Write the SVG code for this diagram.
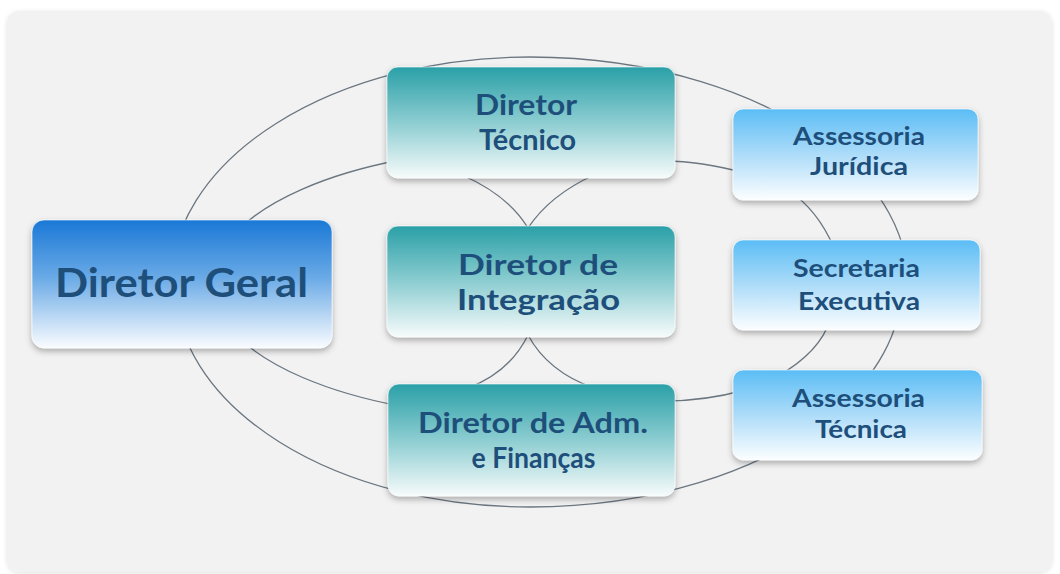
<svg xmlns="http://www.w3.org/2000/svg" width="1060" height="574" viewBox="0 0 1060 574">
  <defs>
    <linearGradient id="gBlue" x1="0" y1="0" x2="0" y2="1">
      <stop offset="0" stop-color="#1a78d6"/>
      <stop offset="0.45" stop-color="#6aaae6"/>
      <stop offset="1" stop-color="#fafcff"/>
    </linearGradient>
    <linearGradient id="gTeal" x1="0" y1="0" x2="0" y2="1">
      <stop offset="0" stop-color="#2aa0a7"/>
      <stop offset="0.5" stop-color="#8ccdd1"/>
      <stop offset="1" stop-color="#f7fbfb"/>
    </linearGradient>
    <linearGradient id="gLight" x1="0" y1="0" x2="0" y2="1">
      <stop offset="0" stop-color="#5bbdf5"/>
      <stop offset="0.5" stop-color="#addcf9"/>
      <stop offset="1" stop-color="#fcfeff"/>
    </linearGradient>
    <filter id="shadow" x="-10%" y="-10%" width="120%" height="130%">
      <feDropShadow dx="0" dy="3" stdDeviation="3" flood-color="#000" flood-opacity="0.3"/>
    </filter>
    <filter id="panelShadow" x="-5%" y="-5%" width="110%" height="110%">
      <feDropShadow dx="0" dy="1" stdDeviation="2" flood-color="#000" flood-opacity="0.12"/>
    </filter>
  </defs>
  <style>
    .box { stroke: #ffffff; stroke-opacity: 0.6; stroke-width: 1; filter: url(#shadow); }
    .lbl { font-family: Lato, "Open Sans", "Liberation Sans", sans-serif; font-weight: bold; fill: #1e4f7b; text-anchor: middle; }
    .mid { font-size: 29px; }
    .small { font-size: 25px; }
    .big { font-size: 40px; }
    .conn path { fill: none; stroke: #6b7680; stroke-width: 1.3; }
  </style>

  <rect x="0" y="0" width="1060" height="574" fill="#ffffff"/>
  <rect id="panel" x="7" y="11" width="1045" height="561" rx="12" fill="#f2f2f2" filter="url(#panelShadow)"/>

  <g id="connectors" class="conn">
    <!-- outer loop -->
    <path d="M 171 284 A 359 227 0 0 1 530 57"/>
    <path d="M 530 57 A 378 227 0 0 1 835 150"/>
    <path d="M 835 150 A 378 227 0 0 1 908 284"/>
    <path d="M 902 284 A 372 223 0 0 1 831 415"/>
    <path d="M 831 415 A 372 223 0 0 1 530 507"/>
    <path d="M 530 507 A 355 223 0 0 1 175 284"/>
    <!-- inner loop -->
    <path d="M 236 232 A 319 136 0 0 1 400 160"/>
    <path d="M 665 161 Q 700 161 745 173"/>
    <path d="M 788 190 Q 818 210 834 248"/>
    <path d="M 830 320 Q 820 352 778 376"/>
    <path d="M 745 390 Q 705 401 665 401"/>
    <path d="M 400 406 A 319 134 0 0 1 237 336"/>
    <!-- middle crossings -->
    <path d="M 462 175 Q 508 195 528 228"/>
    <path d="M 594 175 Q 550 195 528 228"/>
    <path d="M 468 388 Q 510 372 528 335"/>
    <path d="M 528 335 Q 548 372 594 388"/>
  </g>

  <g id="diretor-geral">
    <rect class="box" x="32" y="220" width="300" height="128" rx="12" fill="url(#gBlue)"/>
    <text class="lbl big" x="181.5" y="297" textLength="253" lengthAdjust="spacingAndGlyphs">Diretor Geral</text>
  </g>

  <g id="diretor-tecnico">
    <rect class="box" x="387" y="67" width="288" height="111" rx="11" fill="url(#gTeal)"/>
    <text class="lbl mid" x="526" y="115" textLength="102" lengthAdjust="spacingAndGlyphs">Diretor</text>
    <text class="lbl mid" x="527.5" y="150" textLength="97" lengthAdjust="spacingAndGlyphs">Técnico</text>
  </g>

  <g id="diretor-integracao">
    <rect class="box" x="387" y="226" width="288" height="111" rx="11" fill="url(#gTeal)"/>
    <text class="lbl mid" x="538" y="275" textLength="160" lengthAdjust="spacingAndGlyphs">Diretor de</text>
    <text class="lbl mid" x="538.5" y="310" textLength="163" lengthAdjust="spacingAndGlyphs">Integração</text>
  </g>

  <g id="diretor-adm">
    <rect class="box" x="388" y="384" width="287" height="112" rx="11" fill="url(#gTeal)"/>
    <text class="lbl mid" x="533" y="433" textLength="230" lengthAdjust="spacingAndGlyphs">Diretor de Adm.</text>
    <text class="lbl mid" x="533.5" y="468" textLength="124" lengthAdjust="spacingAndGlyphs">e Finanças</text>
  </g>

  <g id="assessoria-juridica">
    <rect class="box" x="733" y="109" width="245" height="91" rx="10" fill="url(#gLight)"/>
    <text class="lbl small" x="859" y="145" textLength="132" lengthAdjust="spacingAndGlyphs">Assessoria</text>
    <text class="lbl small" x="859" y="175" textLength="98" lengthAdjust="spacingAndGlyphs">Jurídica</text>
  </g>

  <g id="secretaria-executiva">
    <rect class="box" x="733" y="240" width="247" height="90" rx="10" fill="url(#gLight)"/>
    <text class="lbl small" x="856.5" y="277" textLength="127" lengthAdjust="spacingAndGlyphs">Secretaria</text>
    <text class="lbl small" x="859" y="310" textLength="122" lengthAdjust="spacingAndGlyphs">Executiva</text>
  </g>

  <g id="assessoria-tecnica">
    <rect class="box" x="733" y="370" width="249" height="90" rx="10" fill="url(#gLight)"/>
    <text class="lbl small" x="858.5" y="407" textLength="133" lengthAdjust="spacingAndGlyphs">Assessoria</text>
    <text class="lbl small" x="861" y="438" textLength="92" lengthAdjust="spacingAndGlyphs">Técnica</text>
  </g>
</svg>
